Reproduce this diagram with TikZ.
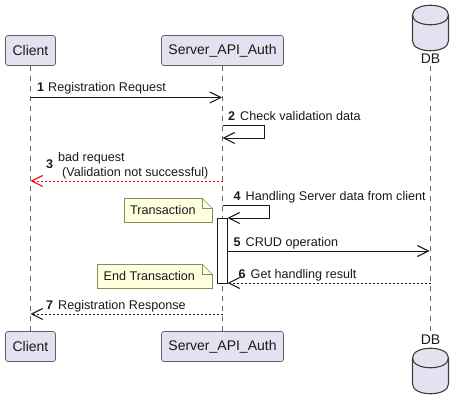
\documentclass[tikz,border=0pt]{standalone}
\usepackage{fontspec}
\setmainfont{Liberation Sans}
\usetikzlibrary{arrows.meta}
\definecolor{partfill}{HTML}{E2E2F0}
\definecolor{partline}{HTML}{5F5F6B}
\definecolor{notefill}{HTML}{FEFFDD}
\definecolor{noteline}{HTML}{8A8A5C}
\definecolor{ink}{HTML}{1A1A1A}
\definecolor{life}{HTML}{6A6A6A}
\tikzset{
  x=1pt,y=-1pt,
  part/.style={draw=partline,fill=partfill,line width=0.7pt,rounded corners=2.5pt,minimum height=30pt,inner sep=0pt,font=\fontsize{14}{16}\selectfont,text=ink,anchor=center},
  lifeline/.style={draw=life,line width=0.6pt,dash pattern=on 5pt off 5pt},
  headtip/.style={-{Straight Barb[length=11pt,width=11pt,line width=1.1pt]}},
  msg/.style={draw=ink,line width=0.9pt,headtip},
  ret/.style={draw=ink,line width=0.8pt,dash pattern=on 2pt off 2pt,headtip},
  lbl/.style={font=\fontsize{12.6}{15}\selectfont,text=ink,anchor=base west,inner sep=0pt},
  num/.style={font=\bfseries\fontsize{12.6}{15}\selectfont,text=ink,anchor=base west,inner sep=0pt},
  note/.style={draw=noteline,fill=notefill,line width=0.7pt},
  notetxt/.style={font=\fontsize{12.6}{15}\selectfont,text=ink,anchor=base west,inner sep=0pt},
  cyl/.style={draw=ink!85,fill=partfill,line width=1.1pt},
}
\begin{document}
\begin{tikzpicture}
\useasboundingbox (0,0) rectangle (464,409);
% participants
\node[part,minimum width=50pt] (ct) at (30.5,50.5) {Client};
\node[part,minimum width=122pt] (st) at (222.5,50.5) {Server\_API\_Auth};
\node[part,minimum width=50pt] (cb) at (30.5,346.5) {Client};
\node[part,minimum width=122pt] (sb) at (222.5,346.5) {Server\_API\_Auth};
% database top
\path[cyl] (412.5,15) .. controls (412.5,2) and (448.5,2) .. (448.5,15) -- (448.5,41) .. controls (448.5,54) and (412.5,54) .. (412.5,41) -- cycle;
\draw[cyl,fill=none] (412.5,15) .. controls (412.5,28) and (448.5,28) .. (448.5,15);
\node[font=\fontsize{14}{16}\selectfont,text=ink,inner sep=0pt] (dt) at (430.5,59) {DB};
\coordinate (dtl) at (430.5,66);
% database bottom
\path[cyl] (412.5,358) .. controls (412.5,345) and (448.5,345) .. (448.5,358) -- (448.5,384) .. controls (448.5,397) and (412.5,397) .. (412.5,384) -- cycle;
\draw[cyl,fill=none] (412.5,358) .. controls (412.5,371) and (448.5,371) .. (448.5,358);
\node[font=\fontsize{14}{16}\selectfont,text=ink,inner sep=0pt] (db) at (430.5,340) {DB};
\coordinate (dbl) at (430.5,331);
% lifelines
\begin{scope}[on background layer/.style={}]
\draw[lifeline] (ct) -- (cb);
\draw[lifeline] (st) -- (sb);
\draw[lifeline] (dtl) -- (dbl);
\end{scope}
% activation
\node[draw=ink,fill=white,line width=0.9pt,minimum width=10pt,minimum height=65.5pt,inner sep=0pt] (act) at (222.5,250.75) {};
% coordinates on lifelines
\coordinate (a1) at (30.5,97.5); \coordinate (b1) at (222,97.5);
\coordinate (b2) at (222.5,125.5); \coordinate (b2r) at (264.5,125.5); \coordinate (b2e) at (264.5,138); \coordinate (b2f) at (222.5,138);
\coordinate (b3) at (222.5,181); \coordinate (a3) at (30.5,181);
\coordinate (b4) at (222.5,205); \coordinate (b4r) at (269.5,205); \coordinate (b4e) at (269.5,218); \coordinate (b4f) at (227.5,218);
\coordinate (b5) at (227.5,251); \coordinate (d5) at (429.5,251);
\coordinate (d6) at (430.5,283); \coordinate (b6) at (227.5,283);
\coordinate (b7) at (222.5,314); \coordinate (a7) at (30.5,314);
% messages
\draw[msg] (a1) -- (b1);
\draw[msg] (b2) -- (b2r) -- (b2e) -- (b2f);
\draw[ret,draw=red] (b3) -- (a3);
\draw[msg] (b4) -- (b4r) -- (b4e) -- (b4f);
\draw[msg] (b5) -- (d5);
\draw[ret] (d6) -- (b6);
\draw[ret] (b7) -- (a7);
% labels
\node[num] (n1) at (37,92) {1}; \node[lbl] (t1) at (48,92) {Registration Request};
\node[num] (n2) at (228,121) {2}; \node[lbl] (t2) at (240,121) {Check validation data};
\node[num] (n3) at (46,169) {3}; \node[lbl] (t3a) at (58,162) {bad request};
\node[lbl] (t3b) at (62,177) {(Validation not successful)};
\node[num] (n4) at (233.5,201) {4}; \node[lbl] (t4) at (245.5,201) {Handling Server data from client};
\node[num] (n5) at (233.5,247) {5}; \node[lbl] (t5) at (245.5,247) {CRUD operation};
\node[num] (n6) at (238.5,279) {6}; \node[lbl] (t6) at (250.5,279) {Get handling result};
\node[num] (n7) at (46,310) {7}; \node[lbl] (t7) at (58,310) {Registration Response};
% notes
\path[note] (124.5,198.5) -- (202.5,198.5) -- (212.5,208.5) -- (212.5,222.5) -- (124.5,222.5) -- cycle;
\path[note,fill=none] (202.5,198.5) -- (202.5,208.5) -- (212.5,208.5);
\node[notetxt] (nt1) at (130,215) {Transaction};
\path[note] (97.5,264.5) -- (202.5,264.5) -- (212.5,274.5) -- (212.5,288.5) -- (97.5,288.5) -- cycle;
\path[note,fill=none] (202.5,264.5) -- (202.5,274.5) -- (212.5,274.5);
\node[notetxt] (nt2) at (103.5,281) {End Transaction};
\end{tikzpicture}
\end{document}
